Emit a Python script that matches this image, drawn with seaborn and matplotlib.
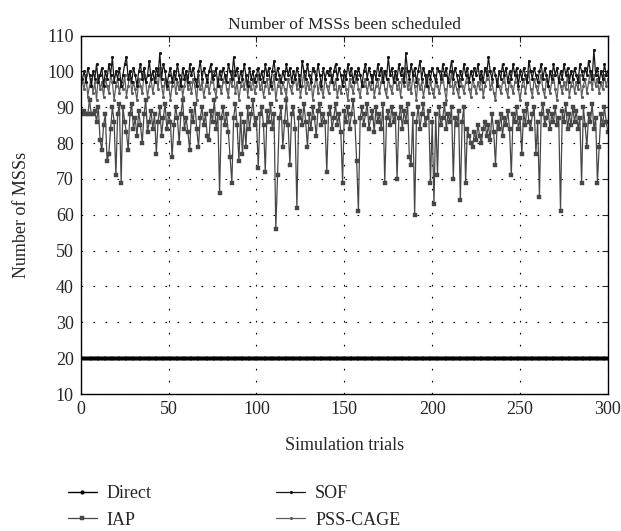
import numpy as np
import pandas as pd
import matplotlib
matplotlib.use("Agg")
import matplotlib.pyplot as plt
import seaborn as sns

# trials 1..300
trials = np.arange(1, 301)

direct = [20] * 300

iap = [
    88, 89, 88, 88, 92, 88, 88, 89, 86, 90, 81, 78, 85, 88, 75, 77, 84, 90, 86, 71,
    88, 91, 69, 90, 86, 83, 78, 88, 91, 84, 87, 82, 89, 85, 80, 88, 92, 83, 86, 89,
    84, 88, 77, 86, 90, 82, 87, 91, 84, 88, 86, 76, 85, 90, 87, 80, 88, 92, 84, 87,
    83, 78, 89, 86, 91, 84, 79, 87, 90, 85, 88, 82, 81, 89, 86, 92, 84, 88, 66, 87,
    90, 85, 88, 83, 76, 69, 87, 91, 85, 75, 88, 77, 86, 79, 90, 84, 88, 92, 85, 87,
    73, 88, 90, 85, 72, 89, 86, 91, 84, 88, 56, 71, 87, 90, 79, 86, 92, 85, 74, 88,
    90, 84, 62, 87, 89, 85, 91, 86, 79, 88, 84, 90, 87, 82, 89, 91, 85, 88, 86, 72,
    88, 90, 84, 87, 91, 85, 88, 83, 69, 89, 86, 90, 84, 88, 92, 86, 75, 61, 87, 90,
    85, 88, 91, 84, 87, 89, 83, 90, 86, 88, 84, 91, 69, 87, 89, 85, 90, 86, 88, 70,
    87, 90, 84, 89, 86, 91, 76, 74, 88, 60, 86, 90, 84, 88, 91, 85, 87, 89, 69, 86,
    63, 88, 71, 90, 85, 87, 91, 84, 88, 86, 90, 70, 87, 85, 89, 64, 86, 90, 69, 84,
    82, 80, 79, 83, 81, 85, 82, 80, 84, 86, 82, 85, 81, 88, 83, 74, 86, 84, 88, 82,
    87, 85, 89, 84, 71, 88, 86, 90, 84, 87, 77, 89, 85, 91, 86, 84, 88, 90, 77, 86,
    65, 88, 91, 85, 87, 89, 84, 88, 86, 90, 85, 87, 61, 89, 86, 91, 84, 88, 85, 90,
    86, 89, 84, 87, 69, 90, 85, 79, 88, 86, 91, 84, 87, 69, 79, 88, 85, 90, 86, 83,
]

sof = [
    98, 100, 97, 101, 99, 96, 100, 98, 102, 97, 99, 101, 96, 100, 98, 102, 99, 104, 97, 100,
    98, 101, 96, 99, 102, 104, 98, 100, 97, 101, 99, 96, 100, 102, 98, 101, 97, 99, 103, 98,
    100, 97, 101, 99, 105, 98, 102, 100, 96, 99, 101, 97, 100, 98, 102, 99, 96, 101, 98, 100,
    97, 102, 99, 101, 98, 96, 100, 103, 98, 101, 99, 97, 100, 102, 98, 99, 101, 96, 100, 98,
    101, 99, 97, 102, 100, 98, 104, 99, 101, 97, 100, 98, 102, 99, 96, 101, 98, 100, 97, 99,
    101, 98, 100, 97, 102, 99, 101, 96, 100, 103, 98, 101, 99, 97, 100, 98, 102, 99, 101, 97,
    100, 98, 101, 99, 96, 103, 100, 98, 102, 99, 97, 101, 100, 98, 102, 99, 96, 101, 98, 100,
    99, 101, 97, 100, 102, 98, 101, 99, 96, 100, 98, 102, 99, 101, 97, 100, 98, 101, 99, 96,
    100, 102, 98, 101, 99, 97, 100, 98, 102, 99, 101, 97, 100, 98, 104, 99, 101, 97, 100, 98,
    102, 99, 101, 97, 105, 100, 98, 102, 99, 101, 97, 100, 103, 98, 101, 99, 96, 100, 98, 101,
    99, 97, 101, 100, 98, 102, 99, 101, 97, 100, 103, 98, 101, 99, 96, 100, 98, 102, 99, 101,
    97, 100, 98, 101, 99, 102, 98, 100, 97, 101, 99, 104, 100, 98, 101, 99, 96, 100, 98, 102,
    99, 101, 97, 100, 98, 102, 99, 101, 96, 100, 98, 101, 99, 97, 103, 100, 98, 101, 99, 97,
    100, 102, 98, 101, 99, 96, 100, 98, 102, 99, 101, 97, 100, 98, 102, 99, 101, 97, 100, 98,
    101, 99, 97, 102, 100, 98, 101, 99, 103, 100, 98, 106, 99, 101, 97, 100, 98, 102, 99, 100,
]

pss_cage = [
    97, 95, 99, 93, 96, 98, 94, 97, 92, 99, 95, 97, 93, 98, 96, 94, 99, 97, 92, 96,
    98, 94, 97, 95, 99, 93, 96, 100, 94, 97, 95, 92, 98, 96, 94, 99, 97, 93, 96, 98,
    94, 97, 99, 95, 101, 96, 93, 98, 95, 97, 92, 96, 99, 94, 97, 95, 98, 93, 96, 99,
    95, 97, 94, 98, 96, 92, 99, 95, 97, 93, 96, 98, 94, 97, 100, 95, 93, 98, 96, 94,
    97, 99, 95, 93, 98, 96, 100, 94, 97, 92, 96, 98, 95, 99, 93, 97, 95, 98, 94, 96,
    99, 95, 97, 93, 96, 98, 94, 97, 95, 99, 92, 96, 98, 94, 97, 95, 93, 98, 96, 94,
    97, 99, 95, 98, 93, 96, 100, 94, 97, 95, 98, 92, 96, 99, 94, 97, 95, 93, 98, 96,
    94, 97, 99, 95, 98, 93, 96, 94, 97, 99, 95, 92, 98, 96, 94, 97, 99, 95, 93, 97,
    96, 98, 94, 97, 95, 99, 93, 96, 98, 94, 97, 100, 95, 93, 98, 96, 94, 97, 99, 95,
    97, 93, 98, 96, 101, 95, 97, 94, 99, 96, 92, 98, 95, 97, 93, 96, 99, 94, 97, 95,
    93, 98, 96, 94, 97, 99, 95, 92, 98, 96, 100, 94, 97, 95, 93, 98, 96, 94, 97, 99,
    95, 93, 98, 96, 94, 97, 95, 99, 93, 96, 98, 100, 95, 97, 94, 92, 98, 96, 94, 97,
    99, 95, 93, 98, 96, 94, 97, 99, 95, 92, 96, 98, 94, 97, 100, 95, 93, 98, 96, 94,
    97, 99, 95, 93, 98, 96, 94, 97, 99, 95, 92, 98, 96, 94, 97, 95, 99, 93, 96, 98,
    94, 97, 95, 99, 93, 96, 98, 94, 97, 100, 95, 99, 96, 98, 94, 97, 95, 99, 96, 98,
]

sns.set_style("white")
plt.rcParams['font.family'] = ['Liberation Serif', 'DejaVu Serif']
plt.rcParams['font.size'] = 13

fig = plt.figure(figsize=(6.21, 5.31), dpi=100)
ax = fig.add_axes([0.130, 0.258, 0.849, 0.675])

# seaborn puts white edges on markers by default, so set the edge colour
sns.lineplot(x=trials, y=direct, ax=ax, color="black", linewidth=1.0, marker=".",
             markersize=4.5, markeredgecolor="black", label="Direct")
sns.lineplot(x=trials, y=iap, ax=ax, color="#474747", linewidth=0.9, marker="s",
             markersize=2.8, markeredgecolor="#474747", markeredgewidth=0.3, label="IAP")
sns.lineplot(x=trials, y=pss_cage, ax=ax, color="#5e5e5e", linewidth=0.9, marker=".",
             markersize=3, markeredgecolor="#5e5e5e", label="PSS-CAGE")
sns.lineplot(x=trials, y=sof, ax=ax, color="#151515", linewidth=0.9, marker=".",
             markersize=3, markeredgecolor="#151515", label="SOF")

ax.set_xlim(0, 300)
ax.set_ylim(10, 110)
ax.set_xticks(range(0, 301, 50))
ax.set_yticks(range(10, 111, 10))
ax.grid(True, color="black", linestyle=(0, (1.5, 9.3)), linewidth=0.8)
ax.tick_params(direction="in", length=4, top=True, right=True, labelsize=13, pad=5)
for s in ax.spines.values():
    s.set_color("black")
    s.set_linewidth(1.0)

ax.set_title("Number of MSSs been scheduled", fontsize=12.5, pad=5)
ax.set_xlabel("Simulation trials", fontsize=13, labelpad=14)
ax.set_ylabel("Number of MSSs", fontsize=13, labelpad=12)

handles, labels = ax.get_legend_handles_labels()
order = ["Direct", "IAP", "SOF", "PSS-CAGE"]
hmap = dict(zip(labels, handles))
ax.get_legend().remove()
fig.legend([hmap[k] for k in order], order, loc="upper left",
           bbox_to_anchor=(0.1095, 0.0866), ncol=2, frameon=False, fontsize=13,
           handlelength=1.6, handletextpad=0.55, columnspacing=6.9,
           labelspacing=0.53, borderpad=0, borderaxespad=0)

fig.savefig("out.png", dpi=100)
